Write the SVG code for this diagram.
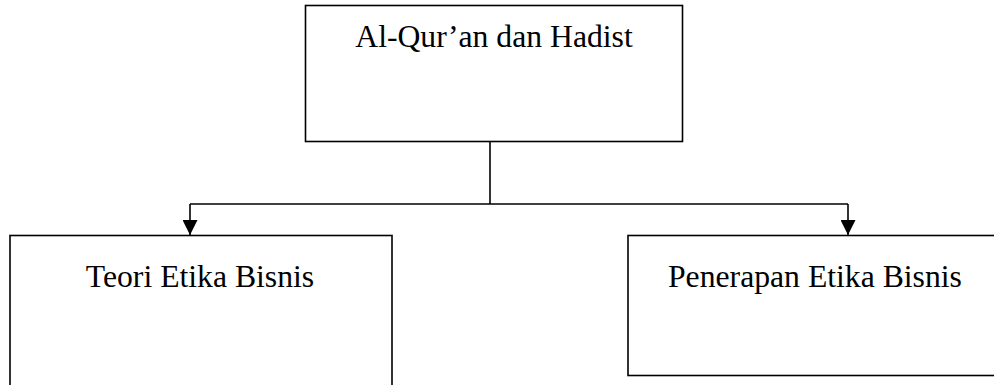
<svg xmlns="http://www.w3.org/2000/svg" width="994" height="385" viewBox="0 0 994 385">
<style>
.box{fill:#fff;stroke:#000;stroke-width:1.6}
.lbl{font-family:"Liberation Serif","Times New Roman",serif;font-size:31.7px;fill:#000}
.conn{fill:none;stroke:#000;stroke-width:1.6}
</style>
<defs>
<marker id="arr" viewBox="0 0 15 15" refX="15" refY="7.5" markerWidth="15" markerHeight="15" markerUnits="userSpaceOnUse" orient="auto">
<path d="M0,0 L15,7.5 L0,15 z" fill="#000"/>
</marker>
</defs>
<rect width="994" height="385" fill="#fff"/>
<g id="connectors">
<path class="conn" d="M490,142 V204"/>
<path class="conn" d="M190,204 H848"/>
<path class="conn" d="M190,204 V235" marker-end="url(#arr)"/>
<path class="conn" d="M848,204 V235" marker-end="url(#arr)"/>
</g>
<g id="node-quran">
<rect class="box" x="305.5" y="5.5" width="377" height="136"/>
<text class="lbl" x="494" y="47" text-anchor="middle">Al-Qur’an dan Hadist</text>
</g>
<g id="node-teori">
<rect class="box" x="10" y="235.5" width="382" height="160"/>
<text class="lbl" x="200" y="287" text-anchor="middle">Teori Etika Bisnis</text>
</g>
<g id="node-penerapan">
<rect class="box" x="628" y="235.5" width="380" height="140"/>
<text class="lbl" x="668" y="287">Penerapan Etika Bisnis</text>
</g>
</svg>
